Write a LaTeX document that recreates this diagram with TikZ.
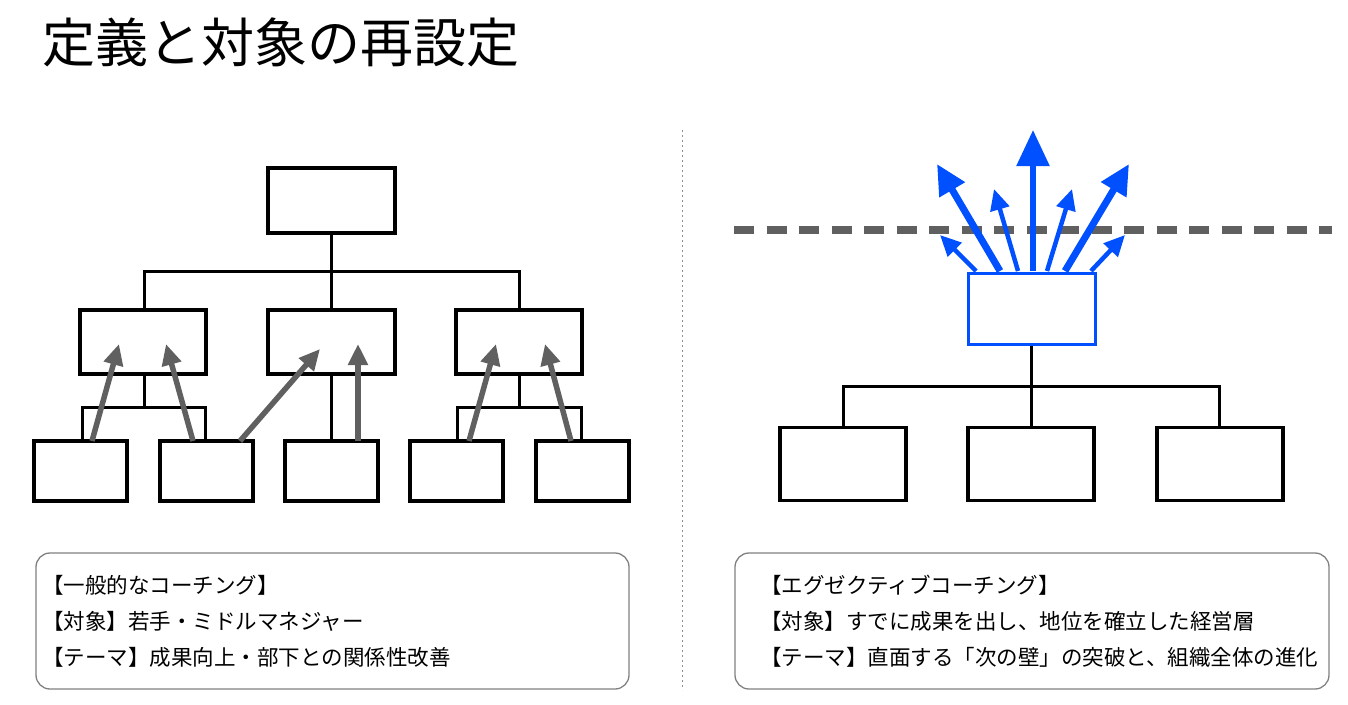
\documentclass[tikz,border=0pt]{standalone}
\usepackage{fontspec}
\setmainfont{Noto Sans CJK JP}
\usetikzlibrary{arrows.meta}
\definecolor{ar}{HTML}{606060}
\definecolor{bl}{HTML}{0050FF}
\begin{document}
\begin{tikzpicture}[x=1pt,y=-1pt,
 bx/.style={draw=black,line width=3.5pt,fill=white,inner sep=0},
 ln/.style={draw=black,line width=3pt},
 ga/.style={draw=ar,line width=5.5pt,-{Triangle[length=21pt,width=19pt]}},
 bbig/.style={draw=bl,line width=7pt,-{Triangle[length=30pt,width=28pt]}},
 bsm/.style={draw=bl,line width=4.5pt,-{Triangle[length=21pt,width=19pt]}},
 tb/.style={draw=ar!80,line width=1.3pt,rounded corners=14pt},
 tx/.style={anchor=west,font=\fontsize{21.5pt}{24pt}\selectfont,inner sep=0}]
\useasboundingbox (0,0) rectangle (1348,704);
\node[anchor=west,inner sep=0,font=\fontsize{53pt}{56pt}\selectfont] (title) at (42,42) {定義と対象の再設定};
% left tree
\draw[ln] (331,233) -- (331,310);
\draw[ln] (144,310) -- (144,271) -- (519,271) -- (519,310);
\draw[ln] (144,374) -- (144,407); \draw[ln] (82,441) -- (82,407) -- (205,407) -- (205,441);
\draw[ln] (519,374) -- (519,407); \draw[ln] (457,441) -- (457,407) -- (581,407) -- (581,441);
\draw[ln] (331,374) -- (331,441);
\node[bx,minimum width=127pt,minimum height=65pt] (top) at (331.5,200.5) {};
\node[bx,minimum width=126pt,minimum height=64pt] (m1) at (143,342) {};
\node[bx,minimum width=127pt,minimum height=64pt] (m2) at (331.5,342) {};
\node[bx,minimum width=126pt,minimum height=64pt] (m3) at (519,342) {};
\foreach \n/\x in {b1/80.5,b2/206.5,b3/331.5,b4/456.5,b5/582.5}
  \node[bx,minimum width=93pt,minimum height=60pt] (\n) at (\x,471) {};
\coordinate (a1s) at (92,441); \coordinate (a1t) at (119,344);
\coordinate (a2s) at (193,441); \coordinate (a2t) at (166,344);
\coordinate (a3s) at (240,441); \coordinate (a3t) at (320,349);
\coordinate (a4s) at (358,441); \coordinate (a4t) at (358,344);
\coordinate (a5s) at (469,441); \coordinate (a5t) at (496,344);
\coordinate (a6s) at (571,441); \coordinate (a6t) at (545,344);
\foreach \i in {1,...,6} \draw[ga] (a\i s) -- (a\i t);
% divider
\draw[ar!70,line width=1pt,dash pattern=on 2pt off 3pt] (682,130) -- (682,690);
% right
\draw[ar,line width=8pt,dash pattern=on 20pt off 12.5pt] (734,230) -- (1332,230);
\draw[ln] (1031,345) -- (1031,427);
\draw[ln] (843,427) -- (843,386) -- (1219,386) -- (1219,427);
\node[draw=bl,line width=3.5pt,fill=white,minimum width=127pt,minimum height=71pt,inner sep=0] (exec) at (1032,309) {};
\foreach \n/\x in {r1/843,r2/1031,r3/1220}
  \node[bx,minimum width=126pt,minimum height=73pt] (\n) at (\x,464) {};
\coordinate (s1) at (976,271); \coordinate (t1) at (940,235);
\coordinate (s2) at (1000,271); \coordinate (t2) at (937,164);
\coordinate (s3) at (1018,271); \coordinate (t3) at (994,189);
\coordinate (s4) at (1033,271); \coordinate (t4) at (1033,130);
\coordinate (s5) at (1047,271); \coordinate (t5) at (1072,189);
\coordinate (s6) at (1065,271); \coordinate (t6) at (1129,164);
\coordinate (s7) at (1091,271); \coordinate (t7) at (1125,235);
\draw[bsm] (s1) -- (t1); \draw[bbig] (s2) -- (t2); \draw[bsm] (s3) -- (t3);
\draw[bl,line width=5.5pt,-{Triangle[length=36pt,width=32pt]}] (s4) -- (t4);
\draw[bsm] (s5) -- (t5); \draw[bbig] (s6) -- (t6); \draw[bsm] (s7) -- (t7);
% text boxes
\draw[tb] (36,553) rectangle (629,689);
\draw[tb] (735,553) rectangle (1329,689);
\node[tx] (l1) at (42,585) {【一般的なコーチング】};
\node[tx] (l2) at (42,621) {【対象】若手・ミドルマネジャー};
\node[tx] (l3) at (42,657) {【テーマ】成果向上・部下との関係性改善};
\node[tx] (r1t) at (760,585) {【エグゼクティブコーチング】};
\node[tx] (r2t) at (760,621) {【対象】すでに成果を出し、地位を確立した経営層};
\node[tx] (r3t) at (760,657) {【テーマ】直面する「次の壁」の突破と、組織全体の進化};
\end{tikzpicture}
\end{document}
